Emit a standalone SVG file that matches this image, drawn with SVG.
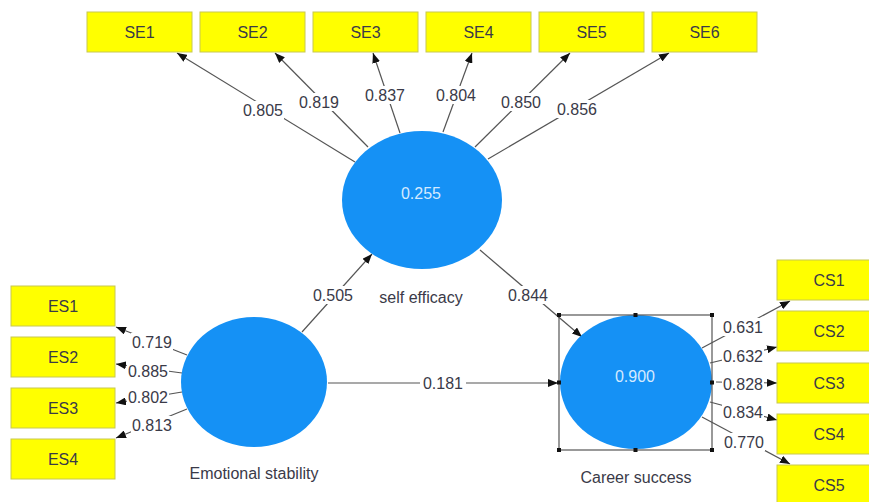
<svg xmlns="http://www.w3.org/2000/svg" width="869" height="502" viewBox="0 0 869 502">
<style>
.ind{fill:#ffff00;stroke:#c8c850;stroke-width:1}
.lv{fill:#1591f5}
.t{font-family:"Liberation Sans",Arial,sans-serif;font-size:16px;fill:#3a3a48;text-anchor:middle;dominant-baseline:central}
.it{font-family:"Liberation Sans",Arial,sans-serif;font-size:16px;fill:#d4eaff;text-anchor:middle;dominant-baseline:central}
.ln{stroke:#555;stroke-width:1.2;fill:none;marker-end:url(#ah)}
.bg{fill:#fff}
.sq{fill:#111}
</style>
<defs>
<marker id="ah" markerUnits="userSpaceOnUse" markerWidth="10" markerHeight="8" refX="10" refY="4" orient="auto">
<path d="M0,0 L10,4 L0,8 z" fill="#111"/>
</marker>
</defs>
<rect width="869" height="502" fill="#fff"/>
<g id="connectors">
<line class="ln" x1="355" y1="162" x2="177" y2="53"/>
<line class="ln" x1="368" y1="147" x2="275" y2="53"/>
<line class="ln" x1="400" y1="133" x2="373" y2="53"/>
<line class="ln" x1="443" y1="132" x2="472" y2="53"/>
<line class="ln" x1="475" y1="147" x2="570" y2="53"/>
<line class="ln" x1="488" y1="159" x2="669" y2="53"/>
<line class="ln" x1="187" y1="355" x2="116" y2="327"/>
<line class="ln" x1="182" y1="373" x2="116" y2="364"/>
<line class="ln" x1="182" y1="392" x2="116" y2="403"/>
<line class="ln" x1="187" y1="409" x2="116" y2="438"/>
<line class="ln" x1="702" y1="348" x2="790" y2="301"/>
<line class="ln" x1="710" y1="363" x2="777" y2="347"/>
<line class="ln" x1="716" y1="382" x2="777" y2="383"/>
<line class="ln" x1="710" y1="402" x2="777" y2="420"/>
<line class="ln" x1="702" y1="417" x2="790" y2="464"/>
<line class="ln" x1="302" y1="332" x2="372" y2="254"/>
<line class="ln" x1="480" y1="250" x2="582" y2="337"/>
<line class="ln" x1="328" y1="383" x2="558" y2="383"/>
<g id="labels">
<rect class="bg" x="242" y="101" width="42" height="18"/><text class="t" x="263" y="110">0.805</text>
<rect class="bg" x="298" y="93" width="42" height="18"/><text class="t" x="319" y="102">0.819</text>
<rect class="bg" x="364" y="86" width="42" height="18"/><text class="t" x="385" y="95">0.837</text>
<rect class="bg" x="435" y="86" width="42" height="18"/><text class="t" x="456" y="95">0.804</text>
<rect class="bg" x="500" y="93" width="42" height="18"/><text class="t" x="521" y="102">0.850</text>
<rect class="bg" x="556" y="100" width="42" height="18"/><text class="t" x="577" y="109">0.856</text>
<rect class="bg" x="131" y="333" width="42" height="18"/><text class="t" x="152" y="342">0.719</text>
<rect class="bg" x="127" y="362" width="42" height="18"/><text class="t" x="148" y="371">0.885</text>
<rect class="bg" x="127" y="388" width="42" height="18"/><text class="t" x="148" y="397">0.802</text>
<rect class="bg" x="131" y="416" width="42" height="18"/><text class="t" x="152" y="425">0.813</text>
<rect class="bg" x="722" y="318" width="42" height="18"/><text class="t" x="743" y="327">0.631</text>
<rect class="bg" x="722" y="347" width="42" height="18"/><text class="t" x="743" y="356">0.632</text>
<rect class="bg" x="722" y="375" width="42" height="18"/><text class="t" x="743" y="384">0.828</text>
<rect class="bg" x="722" y="403" width="42" height="18"/><text class="t" x="743" y="412">0.834</text>
<rect class="bg" x="723" y="433" width="42" height="18"/><text class="t" x="744" y="442">0.770</text>
<rect class="bg" x="312" y="286" width="42" height="18"/><text class="t" x="333" y="295">0.505</text>
<rect class="bg" x="507" y="286" width="42" height="18"/><text class="t" x="528" y="295">0.844</text>
<rect class="bg" x="420" y="374" width="46" height="18"/><text class="t" x="443" y="383">0.181</text>
</g>
</g>
<g id="SE1"><rect class="ind" x="87" y="12" width="105" height="40"/><text class="t" x="139.5" y="32">SE1</text></g>
<g id="SE2"><rect class="ind" x="200" y="12" width="105" height="40"/><text class="t" x="252.5" y="32">SE2</text></g>
<g id="SE3"><rect class="ind" x="313" y="12" width="105" height="40"/><text class="t" x="365.5" y="32">SE3</text></g>
<g id="SE4"><rect class="ind" x="426" y="12" width="105" height="40"/><text class="t" x="478.5" y="32">SE4</text></g>
<g id="SE5"><rect class="ind" x="539" y="12" width="105" height="40"/><text class="t" x="591.5" y="32">SE5</text></g>
<g id="SE6"><rect class="ind" x="652" y="12" width="105" height="40"/><text class="t" x="704.5" y="32">SE6</text></g>
<g id="ES1"><rect class="ind" x="11" y="286" width="104" height="40"/><text class="t" x="63" y="306">ES1</text></g>
<g id="ES2"><rect class="ind" x="11" y="337" width="104" height="40"/><text class="t" x="63" y="357">ES2</text></g>
<g id="ES3"><rect class="ind" x="11" y="388" width="104" height="40"/><text class="t" x="63" y="408">ES3</text></g>
<g id="ES4"><rect class="ind" x="11" y="439" width="104" height="40"/><text class="t" x="63" y="459">ES4</text></g>
<g id="CS1"><rect class="ind" x="777" y="260" width="105" height="40"/><text class="t" x="829" y="280">CS1</text></g>
<g id="CS2"><rect class="ind" x="777" y="311" width="105" height="40"/><text class="t" x="829" y="331">CS2</text></g>
<g id="CS3"><rect class="ind" x="777" y="363" width="105" height="40"/><text class="t" x="829" y="383">CS3</text></g>
<g id="CS4"><rect class="ind" x="777" y="414" width="105" height="40"/><text class="t" x="829" y="434">CS4</text></g>
<g id="CS5"><rect class="ind" x="777" y="465" width="105" height="40"/><text class="t" x="829" y="485">CS5</text></g>
<g id="self-efficacy">
<ellipse class="lv" cx="422" cy="200" rx="80" ry="69"/>
<text class="it" x="421" y="193">0.255</text>
<text class="t" x="421" y="297">self efficacy</text>
</g>
<g id="emotional-stability">
<ellipse class="lv" cx="254" cy="382" rx="73" ry="65"/>
<text class="t" x="254" y="473">Emotional stability</text>
</g>
<g id="career-success">
<ellipse class="lv" cx="636" cy="382" rx="76" ry="67"/>
<text class="it" x="635" y="376">0.900</text>
<text class="t" x="636" y="477">Career success</text>
<rect x="559" y="315" width="153" height="135" fill="none" stroke="#555" stroke-width="1.2"/>
<rect class="sq" x="557" y="313" width="4" height="4"/>
<rect class="sq" x="633.5" y="313" width="4" height="4"/>
<rect class="sq" x="710" y="313" width="4" height="4"/>
<rect class="sq" x="557" y="380.5" width="4" height="4"/>
<rect class="sq" x="710" y="380.5" width="4" height="4"/>
<rect class="sq" x="557" y="448" width="4" height="4"/>
<rect class="sq" x="633.5" y="448" width="4" height="4"/>
<rect class="sq" x="710" y="448" width="4" height="4"/>
</g>
</svg>
